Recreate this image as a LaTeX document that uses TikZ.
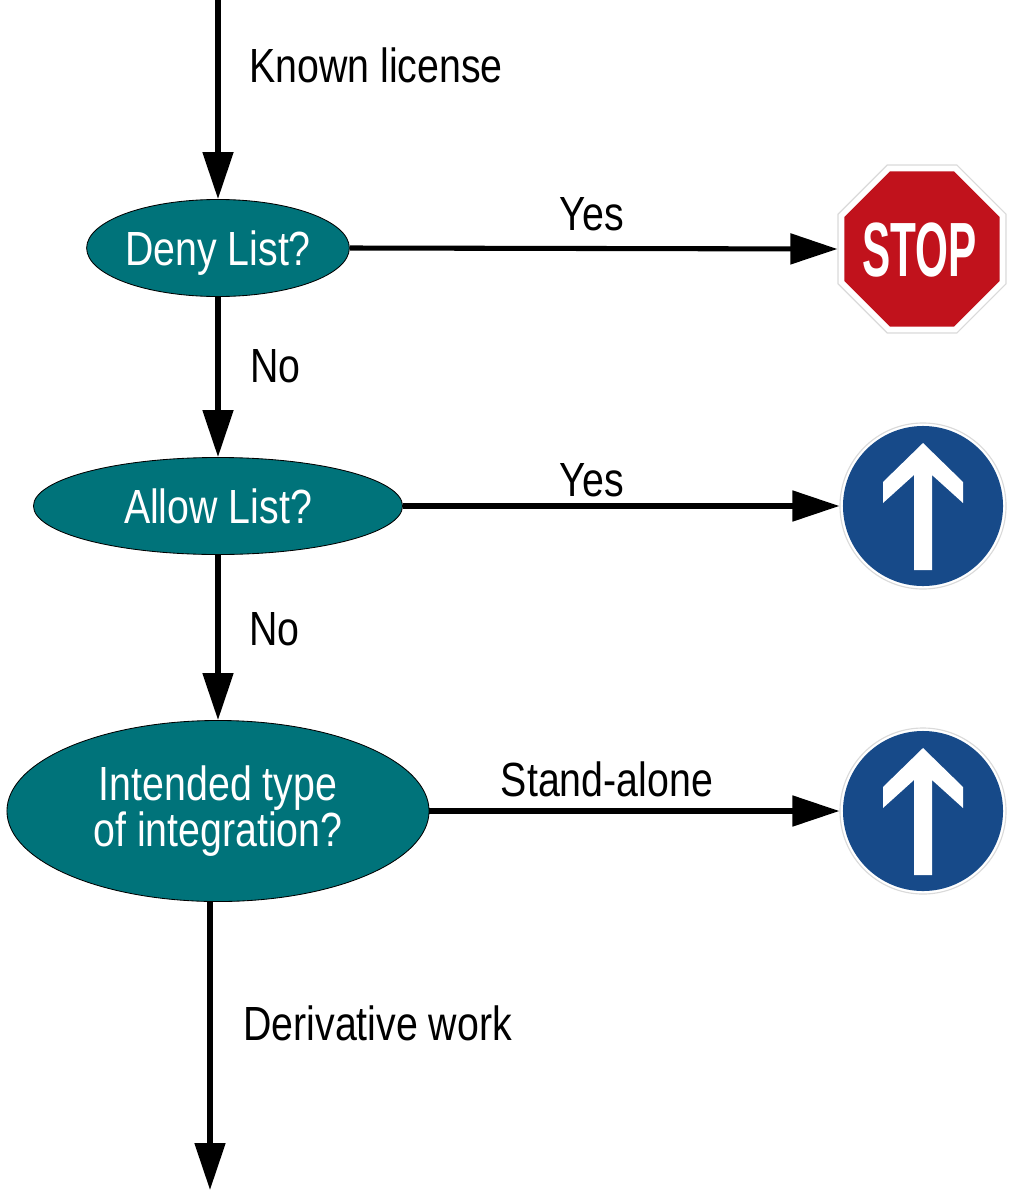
\documentclass[tikz,border=0pt]{standalone}
\usepackage{fontspec}
\setmainfont[FakeStretch=0.82]{Liberation Sans}
\newfontfamily\stopfont[FakeStretch=0.55]{Liberation Sans}
\usetikzlibrary{shapes.geometric,arrows.meta}
\definecolor{deciteal}{RGB}{0,115,122}
\definecolor{stopred}{RGB}{193,18,28}
\definecolor{signblue}{RGB}{23,74,137}
\definecolor{signedge}{RGB}{218,218,218}
% white "ahead only" arrow on a round sign
\newcommand{\aheadglyph}[1]{%
  \fill[white,shift={(#1.center)}] (0,-63) -- (40,-24) -- (40,-3) -- (9,-31) -- (9,64)
    -- (-9,64) -- (-9,-31) -- (-40,-3) -- (-40,-24) -- cycle;}

\begin{document}
\begin{tikzpicture}[x=0.025cm,y=-0.025cm,
  font=\fontsize{34.1}{32.5}\selectfont,
  flow/.style={line width=3.6pt,-{Triangle[length=1.175cm,width=0.75cm]}},
  decision/.style={ellipse,draw=black,line width=0.6pt,fill=deciteal,text=white,inner sep=0pt},
  oneline/.style={text height=0.86cm,text depth=0pt},
  lbl/.style={anchor=base west,inner sep=0pt},
  ctrlbl/.style={anchor=base,inner sep=0pt},
  signring/.style={fill=white,draw=signedge,line width=0.8pt,inner sep=0pt}]

\useasboundingbox (0,0) rectangle (1012,1191);

\node[decision,oneline,minimum width=6.5cm,minimum height=2.425cm] (deny) at (218,248) {Deny List?};
\node[decision,oneline,minimum width=9.225cm,minimum height=2.425cm] (allow) at (218,506) {Allow List?};
\node[decision,align=center,minimum width=10.55cm,minimum height=4.525cm] (integ) at (218,811) {Intended type\\of integration?};

% stop sign
\node[regular polygon,regular polygon sides=8,minimum size=4.545cm,signring] (stop) at (922,249) {};
\node[regular polygon,regular polygon sides=8,minimum size=4.195cm,inner sep=0pt,fill=stopred] (stopface) at (stop.center) {};
\node[text=white,font=\stopfont\bfseries\fontsize{54.7}{60}\selectfont,text height=1.375cm,text depth=0pt,inner sep=0pt,xshift=-0.06cm] (stoptext) at (stop.center) {STOP};

% ahead only signs
\node[circle,minimum size=4.15cm,signring] (aheadA) at (923,506) {};
\node[circle,minimum size=4.0cm,inner sep=0pt,fill=signblue] (aheadAface) at (aheadA.center) {};
\aheadglyph{aheadA}
\node[circle,minimum size=4.15cm,signring] (aheadB) at (923,811) {};
\node[circle,minimum size=4.0cm,inner sep=0pt,fill=signblue] (aheadBface) at (aheadB.center) {};
\aheadglyph{aheadB}

\coordinate (entry) at (218,0);
\coordinate (exit) at (210,1190);

\draw[flow] (entry) -- (deny.north);
\draw[flow] (deny.east) -- (stop.west);
\draw[flow] (deny.south) -- (allow.north);
\draw[flow] (allow.east) -- (aheadA.west);
\draw[flow] (allow.south) -- (integ.north);
\draw[flow] (integ.east) -- (aheadB.west);
\draw[flow] (exit |- integ.south) -- (exit);

\node[lbl] (known) at (249,82) {Known license};
\node[ctrlbl] (yesA) at (592,230.7) {Yes};
\node[lbl] (noA) at (250,382.7) {No};
\node[ctrlbl] (yesB) at (592,496) {Yes};
\node[lbl] (noB) at (249,645) {No};
\node[ctrlbl] (standalone) at (607,796.7) {Stand-alone};
\node[lbl] (derivative) at (243,1040) {Derivative work};

\end{tikzpicture}
\end{document}
